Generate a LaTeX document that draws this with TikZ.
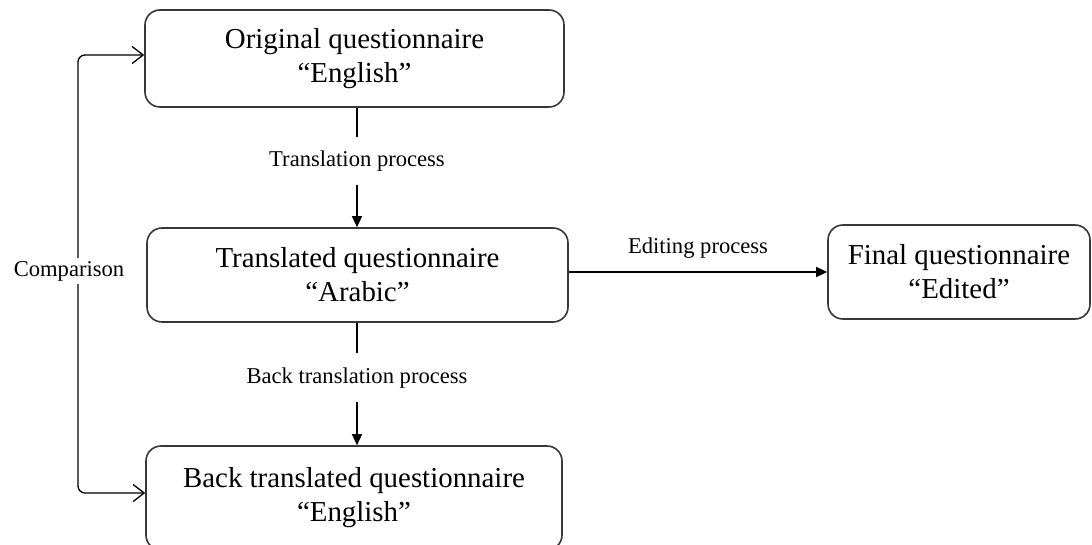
\documentclass[tikz,border=0pt]{standalone}
\usepackage{fontspec}
\setmainfont{Liberation Serif}
\usetikzlibrary{arrows.meta}
\begin{document}
\begin{tikzpicture}[x=1pt,y=-1pt,
  qbox/.style={draw=black!78, line width=1.6pt, rounded corners=15pt, inner sep=0pt,
    align=center, font=\fontsize{28.9}{34}\selectfont},
  lbl/.style={inner xsep=2pt, inner ysep=13.5pt, text height=16pt, text depth=5pt,
    font=\fontsize{22.6}{26}\selectfont},
  flow/.style={line width=1.3pt, -{Triangle[length=11pt,width=10pt]}},
  plain/.style={line width=1.3pt},
  cmp/.style={line width=1.3pt, rounded corners=7pt,
    {Straight Barb[length=11pt,width=17pt,line width=1.3pt]}-{Straight Barb[length=11pt,width=17pt,line width=1.3pt]}}
]
\clip (0,0) rectangle (1092,545);
\fill[white] (0,0) rectangle (1092,545);

% questionnaire boxes
\node[qbox, minimum width=419pt, minimum height=97pt] (orig) at (354.5,58.5)
  {Original questionnaire\\“English”};
\node[qbox, minimum width=421pt, minimum height=94pt] (trans) at (357.5,275)
  {\raisebox{-3pt}{Translated questionnaire}\\\raisebox{-3pt}{“Arabic”}};
\node[qbox, minimum width=416pt, minimum height=104pt] (back) at (354,498)
  {Back translated questionnaire\\“English”};
\node[qbox, minimum width=262pt, minimum height=94pt] (final) at (959,272)
  {Final questionnaire\\“Edited”};

% process labels sitting on the vertical connectors
\node[lbl] (tp) at (357,161) {Translation process};
\node[lbl] (btp) at (357,377.5) {Back translation process};

\draw[plain] (orig.south -| tp.north) -- (tp.north);
\draw[flow] (tp.south) -- (tp.south |- trans.north);
\draw[plain] (trans.south -| btp.north) -- (btp.north);
\draw[flow] (btp.south) -- (btp.south |- back.north);

% editing step
\draw[flow] ([yshift=3pt]trans.east) -- (final.west)
  node[midway, above=10pt, font=\fontsize{22.6}{26}\selectfont] (ep) {Editing process};

% comparison loop on the left
\coordinate (ctop) at (78,55);
\coordinate (cbot) at (78,493);
\draw[cmp] ([yshift=3.5pt]orig.west) -- (ctop) -- (cbot) -- ([yshift=5pt]back.west);
\node[fill=white, inner sep=3pt, font=\fontsize{22.6}{26}\selectfont] (cl) at (69,271) {Comparison};
\end{tikzpicture}
\end{document}
